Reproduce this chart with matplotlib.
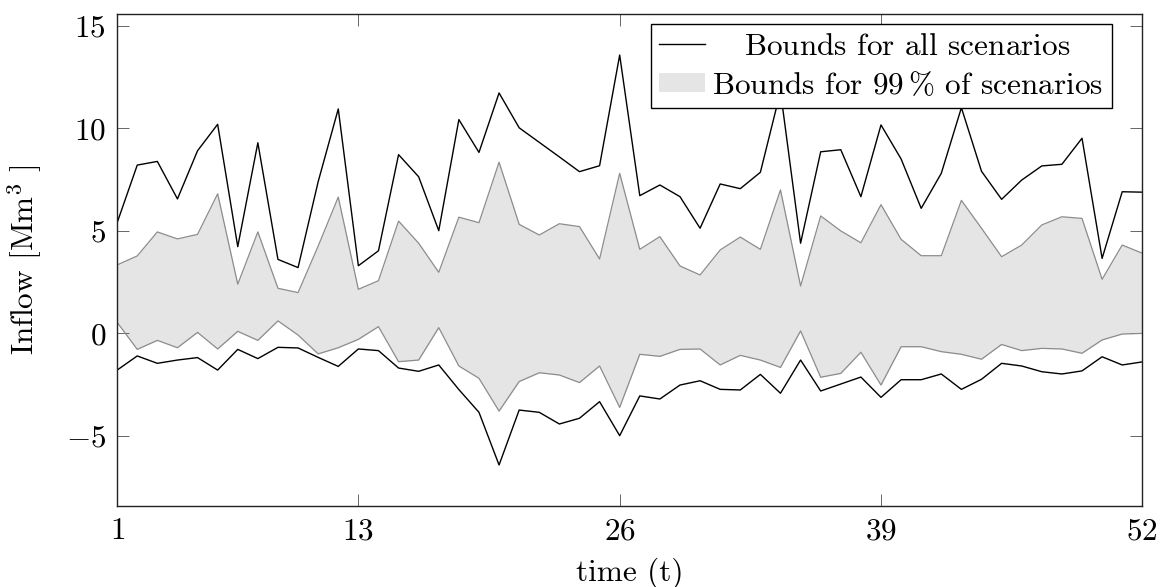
import numpy as np
import matplotlib
matplotlib.use("Agg")
import matplotlib.pyplot as plt
from matplotlib.lines import Line2D
from matplotlib.patches import Patch

plt.rcParams["font.family"] = "serif"
plt.rcParams["font.serif"] = ["cmr10", "DejaVu Serif"]
plt.rcParams["mathtext.fontset"] = "cm"
plt.rcParams["axes.formatter.use_mathtext"] = True

# weekly inflow bounds over all scenarios and over 99 % of them
t = np.arange(1, 53)
upper_all = [5.39, 8.20, 8.38, 6.55, 8.90, 10.19, 4.22, 9.29, 3.60, 3.20,
             7.39, 10.94, 3.29, 4.02, 8.71, 7.63, 5.00, 10.42, 8.82, 11.72,
             10.02, 9.31, 8.60, 7.88, 8.17, 13.57, 6.71, 7.23, 6.66, 5.12,
             7.28, 7.05, 7.85, 11.80, 4.39, 8.85, 8.95, 6.66, 10.16, 8.50,
             6.09, 7.80, 11.00, 7.90, 6.53, 7.47, 8.16, 8.24, 9.51, 3.65,
             6.90, 6.88]
upper_99 = [3.33, 3.77, 4.94, 4.60, 4.82, 6.80, 2.39, 4.94, 2.19, 1.98,
            4.25, 6.64, 2.14, 2.56, 5.47, 4.39, 2.97, 5.66, 5.39, 8.34,
            5.31, 4.79, 5.34, 5.20, 3.62, 7.80, 4.09, 4.71, 3.28, 2.84,
            4.06, 4.69, 4.09, 6.99, 2.30, 5.72, 4.99, 4.41, 6.27, 4.58,
            3.78, 3.78, 6.48, 5.12, 3.73, 4.30, 5.28, 5.68, 5.60, 2.63,
            4.30, 3.90]
lower_99 = [0.53, -0.79, -0.35, -0.71, 0.04, -0.77, 0.09, -0.35, 0.60, -0.09,
            -1.01, -0.71, -0.30, 0.32, -1.39, -1.31, 0.27, -1.60, -2.20, -3.80,
            -2.36, -1.93, -2.04, -2.41, -1.60, -3.62, -1.03, -1.13, -0.79, -0.77,
            -1.55, -1.08, -1.31, -1.67, 0.11, -2.15, -1.96, -0.93, -2.53, -0.66,
            -0.66, -0.90, -1.03, -1.27, -0.55, -0.85, -0.74, -0.77, -0.98, -0.33,
            -0.04, -0.01]
lower_all = [-1.80, -1.11, -1.47, -1.31, -1.19, -1.80, -0.79, -1.24, -0.69, -0.72,
             -1.18, -1.62, -0.77, -0.85, -1.70, -1.86, -1.55, -2.75, -3.86, -6.43,
             -3.75, -3.86, -4.43, -4.15, -3.34, -5.00, -3.06, -3.21, -2.53, -2.32,
             -2.74, -2.77, -2.01, -2.93, -1.31, -2.82, -2.48, -2.14, -3.13, -2.27,
             -2.27, -1.99, -2.74, -2.25, -1.47, -1.60, -1.88, -1.99, -1.84, -1.15,
             -1.55, -1.40]

xticks = [1, 13, 26, 39, 52]
yticks = [-5, 0, 5, 10, 15]

fs = 22.5
fig = plt.figure(figsize=(11.61, 5.87), dpi=100)
ax = fig.add_axes([0.1009, 0.138, 0.8830, 0.8381])

ax.fill_between(t, lower_99, upper_99, color="#e5e5e5", linewidth=0)
ax.plot(t, upper_99, color="#8c8c8c", lw=0.9)
ax.plot(t, lower_99, color="#8c8c8c", lw=0.9)
ax.plot(t, upper_all, color="black", lw=1.0)
ax.plot(t, lower_all, color="black", lw=1.0)

# pgfplots-style 10 % enlargement of the y range
lo, hi = min(lower_all), max(upper_all)
pad = 0.1 * (hi - lo)
ax.set_ylim(lo - pad, hi + pad)
ax.set_xlim(1, 52)

ax.set_xticks(xticks)
ax.set_xticklabels([f"${v}$" for v in xticks])
ax.set_yticks(yticks)
ax.set_yticklabels([f"${v}$" for v in yticks])
ax.tick_params(direction="in", length=8.5, width=0.7, color="#666666",
               top=True, right=True, labelsize=fs, pad=8)

for sp in ax.spines.values():
    sp.set_linewidth(1.0)
    sp.set_color("#222222")

ax.set_xlabel("time (t)", fontsize=fs, labelpad=9)
ax.set_ylabel(r"Inflow [Mm$^3$ ]", fontsize=fs, labelpad=15)

handles = [Line2D([], [], color="black", lw=1.0),
           Patch(facecolor="#e5e5e5", edgecolor="none")]
labels = [r"$\quad\,$Bounds for all scenarios",
          r"Bounds for $99\,\%$ of scenarios"]
leg = ax.legend(handles, labels, loc="upper right",
                bbox_to_anchor=(0.9705, 0.9797), borderaxespad=0,
                fontsize=fs, fancybox=False, framealpha=1, edgecolor="black",
                handlelength=1.45, handleheight=0.55, handletextpad=0.25,
                borderpad=0.28, labelspacing=0.32)
leg.get_frame().set_linewidth(1.0)

fig.savefig("out.png", dpi=100)
